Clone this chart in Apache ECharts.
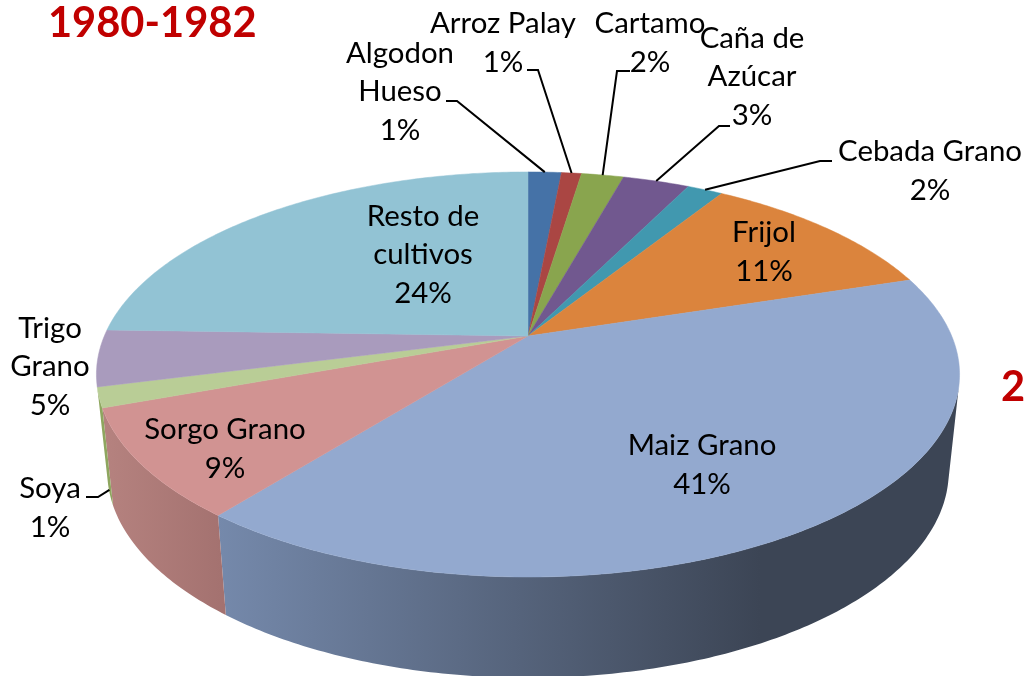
<!DOCTYPE html>
<html>
<head>
<meta charset="utf-8">
<style>
  html, body { margin: 0; padding: 0; background: #fff; }
  #chart { width: 1025px; height: 676px; }
</style>
<script src="https://cdn.jsdelivr.net/npm/echarts@6/dist/echarts.min.js"></script>
</head>
<body>
<div id="chart"></div>
<script>
// datos
const cultivos = ['Algodon\nHueso', 'Arroz Palay', 'Cartamo', 'Caña de\nAzúcar', 'Cebada Grano', 'Frijol', 'Maiz Grano', 'Sorgo Grano', 'Soya', 'Trigo\nGrano', 'Resto de\ncultivos']
const valores = [1.5, 0.9, 1.9, 3, 1.6, 11.2, 40.6, 8.7, 1.6, 4.5, 24.5]
const porcentajes = ['1%', '1%', '2%', '3%', '2%', '11%', '41%', '9%', '1%', '5%', '24%']
const colores = ['#4572a7', '#aa4643', '#89a54e', '#71588f', '#4198af', '#db843d', '#93a9cf', '#d19392', '#b9cd96', '#a99bbd', '#92c3d4']

// posicion de cada etiqueta: centro del texto y codo de la linea guia
const etiquetas = [
  { x: 400, y: 92, guia: [[446, 101], [457, 101]] },
  { x: 503, y: 43, guia: [[527, 70], [538, 70]] },
  { x: 650, y: 43, guia: [[630, 71], [617, 71]] },
  { x: 752, y: 77, guia: [[730, 126], [719, 126]] },
  { x: 930, y: 171, guia: [[832, 161], [820, 161]] },
  { x: 764, y: 252 },
  { x: 702, y: 465 },
  { x: 225, y: 449 },
  { x: 50, y: 508, guia: [[86, 497], [98, 497]], pared: 0.95 },
  { x: 50, y: 367 },
  { x: 423, y: 255 }
]

// geometria del pastel 3D: circulo proyectado en perspectiva
const CX = 528, CY = 336
const A = 423.7, B = 195.2, K = 0.19
const ESC_X = 0.975, ESC_Y = 1.02, ALTO = 96

const FUENTE = 'Lato, "Noto Sans", sans-serif'

const total = valores.reduce((s, v) => s + v, 0)
const cortes = [0]
valores.forEach(v => cortes.push(cortes[cortes.length - 1] + v / total * Math.PI * 2))

// punto de la cara superior para un angulo (0 arriba, sentido horario)
function arriba (ang) {
  const u = Math.sin(ang)
  const v = Math.cos(ang)
  const w = 1 + K * v
  return [CX + A * u / w, CY - B * v / w]
}

// el mismo punto en la base del cilindro
function abajo (ang) {
  const p = arriba(ang)
  return [CX + (p[0] - CX) * ESC_X, CY + (p[1] - CY) * ESC_Y + ALTO]
}

function arco (a0, a1, fn) {
  const n = Math.max(2, Math.ceil((a1 - a0) / 0.012))
  const pts = []
  for (let i = 0; i <= n; i++) pts.push(fn(a0 + (a1 - a0) * i / n))
  return pts
}

function colorPared (i) {
  if (i === 6) {
    return {
      type: 'linear', x: 218, y: 0, x2: 760, y2: 0, global: true,
      colorStops: [{ offset: 0, color: '#7589ab' }, { offset: 1, color: '#3c4555' }]
    }
  }
  if (i === 7) {
    return {
      type: 'linear', x: 105, y: 0, x2: 228, y2: 0, global: true,
      colorStops: [{ offset: 0, color: '#b5827f' }, { offset: 1, color: '#a3716f' }]
    }
  }
  return '#8ea65f'
}

// solo se ven las paredes de Maiz, Sorgo y Soya
const conPared = [6, 7, 8]

function paredItem (params) {
  const i = params.dataIndex
  if (!conPared.includes(i)) return null
  const sup = arco(cortes[i], cortes[i + 1], arriba)
  const inf = arco(cortes[i], cortes[i + 1], abajo)
  // quitar la parte que mira hacia atras, si no el poligono se anula en el pliegue
  const frenteSup = [], frenteInf = []
  for (let k = 0; k < sup.length; k++) {
    const sig = sup[Math.min(k + 1, sup.length - 1)]
    const ant = sup[Math.max(k - 1, 0)]
    const cruz = (sig[0] - ant[0]) * (inf[k][1] - sup[k][1]) - (sig[1] - ant[1]) * (inf[k][0] - sup[k][0])
    if (cruz < 0) {
      frenteSup.push(sup[k])
      frenteInf.push(inf[k])
    }
  }
  return {
    type: 'polygon',
    shape: { points: frenteSup.concat(frenteInf.reverse()) },
    style: { fill: colorPared(i) }
  }
}

function caraItem (params) {
  const i = params.dataIndex
  const pts = [[CX, CY]].concat(arco(cortes[i], cortes[i + 1], arriba))
  return {
    type: 'polygon',
    shape: { points: pts },
    style: { fill: colores[i], stroke: colores[i], lineWidth: 0.5 }
  }
}

function etiquetaItem (params) {
  const i = params.dataIndex
  const e = etiquetas[i]
  const hijos = [{
    type: 'text',
    style: {
      text: cultivos[i] + '\n' + porcentajes[i],
      x: e.x,
      y: e.y,
      align: 'center',
      verticalAlign: 'middle',
      lineHeight: 38.8,
      fill: '#000',
      font: '29.4px ' + FUENTE
    }
  }]
  if (e.guia) {
    const medio = (cortes[i] + cortes[i + 1]) / 2
    const p0 = arriba(medio), p1 = abajo(medio)
    const f = e.pared || 0
    const fin = [p0[0] + (p1[0] - p0[0]) * f, p0[1] + (p1[1] - p0[1]) * f]
    hijos.push({
      type: 'polyline',
      shape: { points: e.guia.concat([fin]) },
      style: { stroke: '#000', lineWidth: 2, fill: 'none' }
    })
  }
  return { type: 'group', children: hijos }
}

const datos = valores.map((v, i) => [i, v])
const chart = echarts.init(document.getElementById('chart'))

chart.setOption({
  animation: false,
  title: [
    { text: '1980-1982', left: 48, top: 3, padding: 0, textStyle: { color: '#c00000', fontSize: 41.6, fontWeight: 'bold', fontFamily: FUENTE } },
    { text: '2', left: 1001, top: 367, padding: 0, textStyle: { color: '#c00000', fontSize: 41.6, fontWeight: 'bold', fontFamily: FUENTE } }
  ],
  series: [
    { type: 'custom', coordinateSystem: 'none', renderItem: paredItem, data: datos, silent: true, z: 1 },
    { type: 'custom', coordinateSystem: 'none', renderItem: caraItem, data: datos, silent: true, z: 2 },
    { type: 'custom', coordinateSystem: 'none', renderItem: etiquetaItem, data: datos, silent: true, z: 3 }
  ]
})
</script>
</body>
</html>
